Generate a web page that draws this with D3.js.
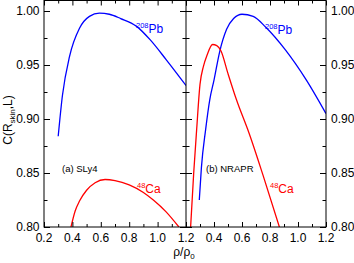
<!DOCTYPE html>
<html>
<head>
<meta charset="utf-8">
<script src="https://cdn.jsdelivr.net/npm/d3@7"></script>
<style>
  body { margin: 0; background: #fff; }
  svg { display: block; font-family: "Liberation Sans", Arial, Helvetica, sans-serif; }
</style>
</head>
<body>
<div id="chart"></div>
<script>
// SLy4 panel (a)
const slyPbRho = [0.30, 0.33, 0.38, 0.45, 0.52, 0.59, 0.66, 0.74, 0.85, 0.95, 1.06, 1.20];
const slyPbC   = [0.884, 0.922, 0.958, 0.984, 0.995, 0.998, 0.997, 0.993, 0.986, 0.973, 0.955, 0.931];
const slyCaRho = [0.39, 0.42, 0.45, 0.50, 0.56, 0.63, 0.70, 0.80, 0.90, 0.97, 1.06, 1.15];
const slyCaC   = [0.800, 0.815, 0.824, 0.834, 0.841, 0.844, 0.843, 0.839, 0.832, 0.825, 0.814, 0.800];

// NRAPR panel (b)
const nraPbRho = [0.295, 0.31, 0.34, 0.37, 0.40, 0.44, 0.49, 0.54, 0.60, 0.68, 0.77, 0.91, 1.06, 1.20];
const nraPbC   = [0.825, 0.855, 0.890, 0.918, 0.936, 0.962, 0.983, 0.993, 0.997, 0.995, 0.985, 0.964, 0.936, 0.905];
const nraCaRho = [0.233, 0.255, 0.276, 0.30, 0.325, 0.35, 0.39, 0.42, 0.45, 0.50, 0.56, 0.65, 0.75, 0.867];
const nraCaC   = [0.800, 0.850, 0.890, 0.932, 0.949, 0.959, 0.969, 0.968, 0.963, 0.942, 0.918, 0.887, 0.848, 0.800];

const xMajor = [0.2, 0.4, 0.6, 0.8, 1.0, 1.2];
const xMinor = [0.3, 0.5, 0.7, 0.9, 1.1];
const yMajor = [0.80, 0.85, 0.90, 0.95, 1.00];
const yMinor = [0.825, 0.875, 0.925, 0.975];

const W = 354, H = 263;
const pL = 44, pM = 186, pR = 326, pT = 0.5, pB = 227;

const svg = d3.select('#chart').append('svg')
    .attr('width', W)
    .attr('height', H);

const xA = d3.scaleLinear().domain([0.2, 1.2]).range([pL, pM]);
const xB = d3.scaleLinear().domain([0.2, 1.2]).range([pM, pR]);
const y = d3.scaleLinear().domain([0.80, 1.00]).range([pB, 11]);

svg.append('clipPath').attr('id', 'clipA')
  .append('rect').attr('x', pL).attr('y', pT).attr('width', pM - pL).attr('height', pB - pT);
svg.append('clipPath').attr('id', 'clipB')
  .append('rect').attr('x', pM).attr('y', pT).attr('width', pR - pM).attr('height', pB - pT);

const line = (xs) => d3.line()
    .x(d => xs(d[0]))
    .y(d => y(d[1]))
    .curve(d3.curveMonotoneX);

function drawCurve(xs, clip, rho, c, color) {
    svg.append('path')
        .datum(rho.map((r, i) => [r, c[i]]))
        .attr('clip-path', `url(#${clip})`)
        .attr('d', line(xs))
        .style('fill', 'none')
        .style('stroke', color)
        .style('stroke-width', 1.3);
}

drawCurve(xA, 'clipA', slyPbRho, slyPbC, '#0000ff');
drawCurve(xA, 'clipA', slyCaRho, slyCaC, '#ff0000');
drawCurve(xB, 'clipB', nraPbRho, nraPbC, '#0000ff');
drawCurve(xB, 'clipB', nraCaRho, nraCaC, '#ff0000');

// ticks (all inward)
function xTicks(xs) {
    [[xMajor, 5], [xMinor, 3]].forEach(([vals, len]) => {
        svg.append('g')
            .attr('transform', `translate(0,${pB})`)
            .call(d3.axisBottom(xs).tickValues(vals).tickSize(-len).tickFormat(''))
            .call(g => g.select('.domain').remove());
        svg.append('g')
            .attr('transform', `translate(0,${pT})`)
            .call(d3.axisTop(xs).tickValues(vals).tickSize(-len).tickFormat(''))
            .call(g => g.select('.domain').remove());
    });
}
xTicks(xA);
xTicks(xB);

function yTicks(xPos, gen, sign) {
    [[yMajor, 6], [yMinor, 3.5]].forEach(([vals, len]) => {
        svg.append('g')
            .attr('transform', `translate(${xPos},0)`)
            .call(gen(y).tickValues(vals).tickSize(sign * len).tickFormat(''))
            .call(g => g.select('.domain').remove());
    });
}
yTicks(pL, d3.axisLeft, -1);
yTicks(pM, d3.axisLeft, 1);
yTicks(pM, d3.axisRight, 1);
yTicks(pR, d3.axisRight, -1);

svg.selectAll('.tick line').style('stroke', '#000').style('stroke-width', 1);

// frames
svg.append('rect')
    .attr('x', pL).attr('y', pT)
    .attr('width', pR - pL).attr('height', pB - pT)
    .style('fill', 'none').style('stroke', '#000').style('stroke-width', 1);
svg.append('line')
    .attr('x1', pM).attr('x2', pM).attr('y1', pT).attr('y2', pB)
    .style('stroke', '#000').style('stroke-width', 1);

// tick labels
const fmt = d3.format('.2f');
svg.selectAll('.ylabL').data(yMajor).enter().append('text')
    .attr('x', pL - 4.5).attr('y', d => y(d) + 4.3)
    .style('text-anchor', 'end').style('font-size', '12px')
    .text(fmt);
svg.selectAll('.ylabR').data(yMajor).enter().append('text')
    .attr('x', pR + 5).attr('y', d => y(d) + 4.3)
    .style('text-anchor', 'start').style('font-size', '12px')
    .text(fmt);
svg.selectAll('.xlabA').data(xMajor).enter().append('text')
    .attr('x', d => xA(d)).attr('y', 241.5)
    .style('text-anchor', 'middle').style('font-size', '12px')
    .text(d => d.toFixed(1));
svg.selectAll('.xlabB').data(xMajor.slice(1)).enter().append('text')
    .attr('x', d => xB(d)).attr('y', 241.5)
    .style('text-anchor', 'middle').style('font-size', '12px')
    .text(d => d.toFixed(1));

// axis titles
const xt = svg.append('text')
    .attr('x', 184).attr('y', 255.5)
    .style('text-anchor', 'middle').style('font-size', '12px');
xt.append('tspan').text('ρ/ρ');
xt.append('tspan').attr('dy', 3).style('font-size', '8px').text('0');

const yt = svg.append('text')
    .attr('transform', 'translate(12,120) rotate(-90)')
    .style('text-anchor', 'middle').style('font-size', '12px');
yt.append('tspan').text('C(R');
yt.append('tspan').attr('dy', 3).style('font-size', '8px').text('skin');
yt.append('tspan').attr('dy', -3).text(',L)');

// curve labels
function nucLabel(x, yb, mass, sym, color) {
    const t = svg.append('text').attr('x', x).attr('y', yb)
        .style('fill', color).style('font-size', '12px');
    t.append('tspan').attr('dy', -5).style('font-size', '7.5px').text(mass);
    t.append('tspan').attr('dy', 5).text(sym);
}
nucLabel(136, 33, '208', 'Pb', '#0000ff');
nucLabel(265, 34, '208', 'Pb', '#0000ff');
nucLabel(137, 193, '48', 'Ca', '#ff0000');
nucLabel(270, 193, '48', 'Ca', '#ff0000');

svg.append('text').attr('x', 62).attr('y', 172)
    .style('font-size', '9.5px').text('(a) SLy4');
svg.append('text').attr('x', 206).attr('y', 172)
    .style('font-size', '9.5px').text('(b) NRAPR');
</script>
</body>
</html>
